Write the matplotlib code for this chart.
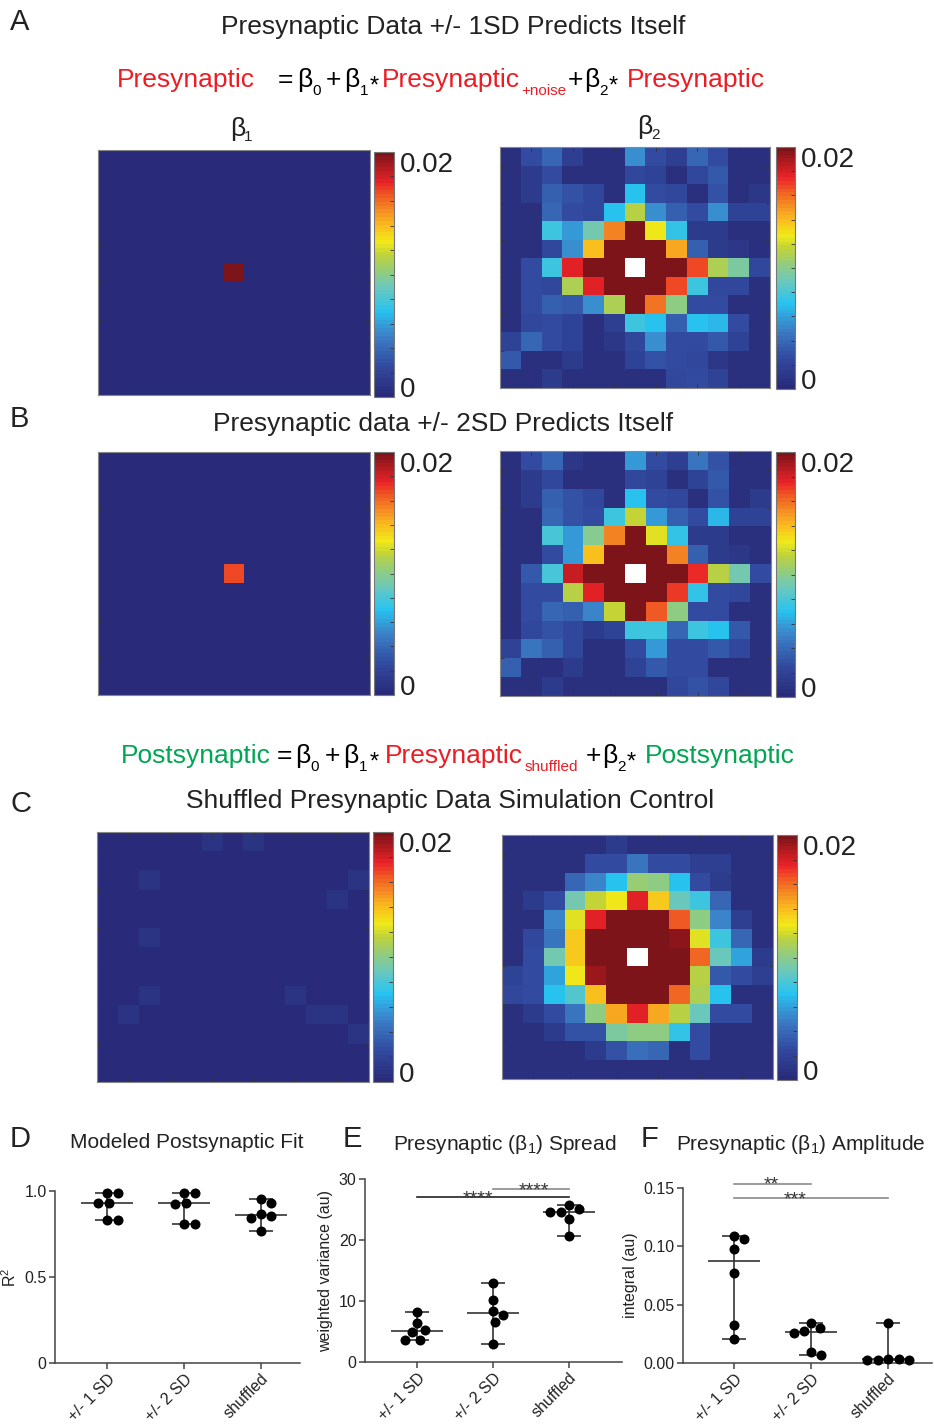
import numpy as np
import matplotlib
matplotlib.use('Agg')
import matplotlib.pyplot as plt
from matplotlib.colors import LinearSegmentedColormap

W, H = 934, 1425
plt.rcParams['font.family'] = ['Liberation Sans', 'DejaVu Sans']
plt.rcParams['mathtext.fontset'] = 'custom'
plt.rcParams['mathtext.rm'] = 'Liberation Sans'
plt.rcParams['mathtext.it'] = 'Liberation Sans:italic'

RED = '#ED1C24'
GREEN = '#00A651'
DARK = '#222222'

# ---- heatmap data (values x 1e-3, nan = centre pixel) ----
nan = np.nan
# beta2, presynaptic +/- 1SD
pre1_beta2 = [
    [0.5, 2.5, 4.0, 1.8, 0.5, 0.5, 5.5, 2.5, 1.8, 4.0, 2.5, 0.5, 0.5],
    [0.5, 1.5, 2.5, 0.5, 0.5, 0.5, 2.2, 2.0, 0.5, 2.2, 3.3, 0.5, 0.5],
    [0.5, 1.5, 3.6, 3.0, 2.2, 0.5, 7.0, 2.5, 2.2, 0.5, 3.0, 0.5, 1.2],
    [0.5, 0.5, 4.0, 2.5, 2.2, 7.0, 11.4, 5.5, 3.6, 2.5, 5.5, 2.0, 2.0],
    [0.5, 0.5, 7.6, 5.8, 9.3, 15.6, 25, 12.6, 7.4, 1.3, 1.3, 0.5, 0.5],
    [0.5, 0.5, 2.2, 5.6, 14.0, 25, 25, 25, 14.6, 3.6, 1.3, 1.0, 0.5],
    [0.5, 2.5, 7.6, 17.6, 25, 25, nan, 25, 25, 16.6, 11.2, 9.6, 2.3],
    [0.5, 2.5, 2.3, 11.0, 17.6, 25, 25, 25, 16.6, 7.6, 2.2, 2.2, 0.5],
    [0.5, 2.5, 3.6, 3.3, 5.6, 11.2, 25, 15.8, 10.0, 2.5, 2.5, 0.5, 0.5],
    [0.5, 2.2, 2.5, 2.0, 0.5, 1.6, 7.7, 7.0, 3.6, 7.0, 6.6, 2.5, 0.5],
    [2.0, 4.0, 2.5, 2.0, 0.5, 1.0, 2.3, 5.6, 2.5, 2.5, 3.3, 2.0, 0.5],
    [3.3, 0.5, 0.5, 1.3, 0.5, 0.5, 2.0, 3.0, 2.5, 2.3, 1.2, 0.5, 0.5],
    [0.5, 0.5, 1.3, 0.5, 0.5, 0.5, 0.5, 0.5, 2.2, 2.7, 2.0, 0.5, 0.5],
]
# beta2, presynaptic +/- 2SD
pre2_beta2 = [
    [0.5, 2.5, 4.0, 1.2, 0.5, 0.5, 5.8, 2.5, 1.8, 4.4, 3.0, 0.5, 0.5],
    [0.5, 1.5, 2.2, 0.5, 0.5, 0.5, 2.3, 2.0, 0.5, 2.0, 3.3, 0.5, 0.5],
    [0.5, 1.5, 3.6, 3.0, 2.3, 0.5, 7.0, 2.5, 2.2, 0.5, 3.0, 0.5, 1.3],
    [0.5, 0.5, 4.0, 3.0, 2.5, 7.6, 11.8, 5.8, 3.6, 2.5, 6.6, 2.0, 2.0],
    [0.5, 0.5, 8.0, 5.8, 9.8, 15.6, 25, 12.4, 7.4, 1.3, 1.5, 0.5, 0.5],
    [0.5, 0.5, 2.5, 5.8, 14.0, 25, 25, 25, 15.6, 3.6, 1.5, 1.2, 0.5],
    [0.5, 3.3, 8.0, 18.4, 25, 25, nan, 25, 25, 17.4, 11.5, 9.3, 2.5],
    [0.5, 2.5, 2.5, 11.5, 17.6, 25, 25, 25, 17.0, 7.4, 2.5, 2.2, 0.5],
    [0.5, 2.5, 4.0, 3.6, 5.3, 11.8, 25, 16.4, 10.2, 2.5, 2.5, 0.5, 0.5],
    [0.5, 2.2, 3.0, 2.3, 1.5, 2.0, 7.8, 7.8, 4.0, 7.8, 7.0, 3.3, 0.5],
    [2.0, 4.4, 3.6, 2.2, 0.5, 0.5, 2.5, 5.8, 2.5, 2.5, 3.3, 2.3, 0.5],
    [3.6, 0.5, 0.5, 1.5, 0.5, 0.5, 2.0, 3.3, 2.5, 2.5, 0.5, 0.5, 0.5],
    [0.5, 0.5, 1.3, 0.5, 0.5, 0.5, 0.5, 0.5, 2.2, 3.0, 2.3, 0.5, 0.5],
]
# beta2, shuffled control
shuf_beta2 = [
    [0.5, 0.5, 0.5, 0.5, 0.5, 1.5, 0.5, 0.5, 0.5, 0.5, 0.5, 0.5, 0.5],
    [0.5, 0.5, 0.5, 0.5, 2.6, 2.6, 4.6, 2.8, 2.5, 1.6, 1.8, 0.5, 0.5],
    [0.5, 0.5, 0.5, 4.0, 5.3, 7.0, 10.5, 10.0, 7.0, 2.7, 1.3, 0.5, 0.5],
    [0.5, 1.3, 2.7, 9.3, 11.8, 12.8, 17.6, 13.6, 9.0, 7.6, 3.8, 0.5, 0.5],
    [0.5, 0.5, 5.3, 12.4, 17.6, 25, 25, 25, 16.4, 10.3, 5.3, 1.8, 0.5],
    [0.5, 2.3, 4.4, 13.6, 25, 25, 25, 25, 19.6, 12.4, 7.6, 4.0, 0.5],
    [0.5, 2.7, 9.3, 13.6, 25, 25, nan, 25, 25, 16.2, 9.0, 6.0, 1.3],
    [2.0, 2.5, 6.2, 12.8, 19.2, 25, 25, 25, 25, 11.3, 3.2, 2.8, 1.8],
    [2.3, 2.8, 7.0, 8.2, 13.8, 25, 25, 25, 16.0, 11.0, 7.0, 0.5, 0.5],
    [0.5, 1.5, 2.8, 4.6, 10.2, 14.6, 17.5, 14.4, 11.4, 9.0, 2.6, 2.6, 0.5],
    [0.5, 0.5, 1.5, 3.0, 3.0, 9.5, 10.1, 10.1, 7.3, 2.6, 0.5, 0.5, 0.5],
    [0.5, 0.5, 0.5, 0.5, 1.5, 3.0, 4.2, 3.8, 0.5, 2.6, 0.5, 0.5, 0.5],
    [0.5, 0.5, 0.5, 0.5, 0.5, 0.5, 0.5, 0.5, 0.5, 0.5, 0.5, 0.5, 0.5],
]
# beta1, shuffled control (nearly flat)
shuf_beta1 = [
    [.2, .2, .2, .2, .2, .9, .2, .9, .2, .2, .2, .2, .2],
    [.2, .2, .2, .2, .2, .2, .2, .2, .2, .2, .2, .2, .2],
    [.2, .2, .9, .2, .2, .2, .2, .2, .2, .2, .2, .2, .9],
    [.2, .2, .2, .2, .2, .2, .2, .2, .2, .2, .2, .9, .2],
    [.2, .2, .2, .2, .2, .2, .2, .2, .2, .2, .2, .2, .2],
    [.2, .2, .9, .2, .2, .2, .2, .2, .2, .2, .2, .2, .2],
    [.2, .2, .2, .2, .2, .2, .2, .2, .2, .2, .2, .2, .2],
    [.2, .2, .2, .2, .2, .2, .2, .2, .2, .2, .2, .2, .2],
    [.2, .2, .9, .2, .2, .2, .2, .2, .2, .9, .2, .2, .2],
    [.2, .9, .2, .2, .2, .2, .2, .2, .2, .2, .9, .9, .2],
    [.2, .2, .2, .2, .2, .2, .2, .2, .2, .2, .2, .2, .9],
    [.2, .2, .2, .2, .2, .2, .2, .2, .2, .2, .2, .2, .2],
    [.2, .2, .2, .2, .2, .2, .2, .2, .2, .2, .2, .2, .2],
]
# beta1 for the self-prediction maps: zero except the centre pixel
pre1_beta1 = np.zeros((13, 13))
pre1_beta1[6, 6] = 25.0
pre2_beta1 = np.zeros((13, 13))
pre2_beta1[6, 6] = 16.8

# ---- dot plot data ----
groups = ['+/- 1 SD', '+/- 2 SD', 'shuffled']
fit_r2 = [[0.99, 0.99, 0.93, 0.93, 0.83, 0.83],
          [0.99, 0.99, 0.93, 0.925, 0.81, 0.81],
          [0.955, 0.93, 0.865, 0.857, 0.845, 0.768]]
spread = [[8.2, 6.4, 5.2, 4.85, 3.65, 3.6],
          [13.0, 10.2, 8.3, 7.75, 6.6, 3.0],
          [25.7, 25.15, 24.65, 24.6, 23.4, 20.7]]
amplitude = [[0.1086, 0.1063, 0.0977, 0.0774, 0.0323, 0.0203],
             [0.0343, 0.0303, 0.0274, 0.026, 0.0097, 0.0066],
             [0.0343, 0.0031, 0.0031, 0.0030, 0.0029, 0.0023]]

# colormap: jet as it looks in the printed figure
anchors = [(0.0, (41, 43, 122)), (0.125, (50, 75, 160)), (0.25, (60, 130, 200)),
           (0.35, (40, 195, 240)), (0.45, (110, 200, 185)), (0.52, (150, 205, 120)),
           (0.58, (190, 210, 60)), (0.635, (240, 232, 25)), (0.7, (250, 190, 30)),
           (0.76, (245, 145, 35)), (0.82, (240, 95, 35)), (0.88, (235, 35, 40)),
           (1.0, (125, 20, 25))]
cmap = LinearSegmentedColormap.from_list(
    'printjet', [(p, tuple(c / 255 for c in rgb)) for p, rgb in anchors], N=64)
cmap.set_bad('white')

fig = plt.figure(figsize=(W / 100, H / 100), dpi=100)
renderer = fig.canvas.get_renderer()


def box(x0, y0, x1, y1):
    return [x0 / W, 1 - y1 / H, (x1 - x0) / W, (y1 - y0) / H]


def txt(x, y, s, **kw):
    kw.setdefault('va', 'baseline')
    return fig.text(x / W, 1 - y / H, s, **kw)


def heatmap(data, hm, cb):
    ax = fig.add_axes(box(*hm))
    im = ax.imshow(np.asarray(data, dtype=float) * 1e-3, cmap=cmap, vmin=0, vmax=0.02,
                   aspect='auto', interpolation='nearest')
    ax.set_xticks(range(1, 12, 2))
    ax.set_yticks(np.arange(0.5, 11, 2))
    ax.tick_params(direction='in', length=3, width=0.6, color='#333',
                   top=True, right=True, labelbottom=False, labelleft=False)
    for s in ax.spines.values():
        s.set_color('#888')
        s.set_linewidth(0.8)
    cax = fig.add_axes(box(*cb))
    bar = fig.colorbar(im, cax=cax, ticks=np.linspace(0, 0.02, 11))
    bar.ax.tick_params(direction='in', length=3, width=0.6, color='#333', labelright=False)
    bar.outline.set_edgecolor('#777')
    bar.outline.set_linewidth(0.8)
    txt(cb[2] + 6, cb[1] + 20, '0.02', fontsize=20, color=DARK)
    txt(cb[2] + 6, cb[3], '0', fontsize=20, color=DARK)


def equation(x, base, pieces):
    # pieces: (gap before in px, text, colour, kind) kind: 'm' main, 's' subscript, 'a' asterisk
    for gap, s, color, kind in pieces:
        x += gap
        if kind == 's':
            t = txt(x, base + 8, s, color=color, fontsize=11)
        elif kind == 'a':
            t = txt(x, base + 6, s, color=color, fontsize=17)
        else:
            t = txt(x, base, s, color=color, fontsize=19)
        x += t.get_window_extent(renderer).width


# ---- header texts ----
for x, y, s in [(10, 30, 'A'), (10, 427, 'B'), (10, 812, 'C'),
                (10, 1147, 'D'), (343, 1147, 'E'), (641, 1147, 'F')]:
    txt(x, y, s, fontsize=21, color=DARK)

txt(453, 34, 'Presynaptic Data +/- 1SD Predicts Itself', ha='center', fontsize=19, color=DARK)
txt(443, 431, 'Presynaptic data +/- 2SD Predicts Itself', ha='center', fontsize=19, color=DARK)
txt(450, 808, 'Shuffled Presynaptic Data Simulation Control', ha='center', fontsize=19, color=DARK)

K = 'black'
equation(117, 87, [(0, 'Presynaptic', RED, 'm'), (23, '=', K, 'm'), (4, 'β', K, 'm'),
                   (0, '0', K, 's'), (5, '+', K, 'm'), (3, 'β', K, 'm'), (0, '1', K, 's'),
                   (1, '*', K, 'a'), (4, 'Presynaptic', RED, 'm'), (1, '+noise', RED, 's'),
                   (1, '+', K, 'm'), (1, 'β', K, 'm'), (0, '2', K, 's'), (1, '*', K, 'a'),
                   (9, 'Presynaptic', RED, 'm')])
equation(121, 763, [(0, 'Postsynaptic', GREEN, 'm'), (6, '=', K, 'm'), (3, 'β', K, 'm'),
                    (0, '0', K, 's'), (6, '+', K, 'm'), (3, 'β', K, 'm'), (0, '1', K, 's'),
                    (3, '*', K, 'a'), (6, 'Presynaptic', RED, 'm'), (1, 'shuffled', RED, 's'),
                    (8, '+', K, 'm'), (1, 'β', K, 'm'), (0, '2', K, 's'), (1, '*', K, 'a'),
                    (9, 'Postsynaptic', GREEN, 'm')])

txt(230, 136, 'β', fontsize=19, color=DARK)
txt(244, 141, '1', fontsize=11, color=DARK)
txt(637, 134, 'β', fontsize=19, color=DARK)
txt(651, 139, '2', fontsize=11, color=DARK)

# ---- heatmaps ----
heatmap(pre1_beta1, (98, 150, 370, 395), (374, 152, 394, 397))
heatmap(pre1_beta2, (500, 147, 770, 388), (776, 147, 795, 389))
heatmap(pre2_beta1, (98, 452, 370, 695), (374, 452, 394, 695))
heatmap(pre2_beta2, (500, 451, 771, 696), (776, 452, 795, 697))
heatmap(shuf_beta1, (97, 832, 369, 1082), (373, 832, 393, 1082))
heatmap(shuf_beta2, (502, 835, 773, 1079), (777, 835, 797, 1080))


# ---- dot plots ----
def swarm(y_px, d=10.5):
    xs = np.zeros(len(y_px))
    placed = []
    for i in np.argsort(-y_px):
        cands = [0.0]
        for px, py in placed:
            dy = y_px[i] - py
            if abs(dy) < d:
                dx = np.sqrt(d * d - dy * dy)
                cands += [px + dx, px - dx]
        cands.sort(key=lambda c: (round(abs(c), 6), -c))
        for c in cands:
            if all((c - px) ** 2 + (y_px[i] - py) ** 2 >= d * d - 1e-6 for px, py in placed):
                xs[i] = c
                break
        placed.append((xs[i], y_px[i]))
    return xs


def dot_panel(bx, cat_px, step, ylim, yticks, ylabels, ylabel, data, sig):
    x0, y0, x1, y1 = bx
    ax = fig.add_axes(box(*bx))
    ax.set_xlim(-(cat_px - x0) / step, (x1 - cat_px) / step)
    ax.set_ylim(*ylim)
    px_y = (y1 - y0) / (ylim[1] - ylim[0])
    for i, vals in enumerate(data):
        vals = np.asarray(vals)
        off = swarm(vals * px_y) / step
        med, lo, hi = np.median(vals), vals.min(), vals.max()
        ax.hlines(med, i - 0.34, i + 0.34, color='#333', lw=1.2, zorder=2)
        ax.vlines(i, lo, hi, color='#333', lw=1.2, zorder=2)
        ax.hlines([lo, hi], i - 0.16, i + 0.16, color='#333', lw=1.2, zorder=2)
        ax.scatter(i + off, vals, s=52, color='black', linewidths=0, zorder=3, clip_on=False)
    for a, b, y, stars, xs, col in sig:
        ax.plot([a, b], [y, y], color=col, lw=1.2, clip_on=False)
        ax.annotate(stars, (xs, y), xytext=(0, -4.5), textcoords='offset points',
                    ha='center', va='baseline', fontsize=14, color='#333', annotation_clip=False)
    ax.set_xticks(range(len(groups)))
    ax.set_xticklabels(groups, rotation=45, ha='right', rotation_mode='anchor', fontsize=11.5)
    ax.set_yticks(yticks)
    ax.set_yticklabels(ylabels, fontsize=11.5)
    ax.set_ylabel(ylabel, fontsize=11.5, color=DARK)
    for s in ['top', 'right']:
        ax.spines[s].set_visible(False)
    for s in ['left', 'bottom']:
        ax.spines[s].set_color('#444')
        ax.spines[s].set_linewidth(1.1)
    ax.tick_params(length=4, width=1.1, color='#444', pad=2, labelcolor=DARK)
    return ax


dot_panel((55, 1191, 300, 1363), 107, 77, (0, 1.0), [0, 0.5, 1.0], ['0', '0.5', '1.0'],
          'R$^2$', fit_r2, [])
dot_panel((365, 1179, 622, 1362), 417, 76, (0, 30), [0, 10, 20, 30], ['0', '10', '20', '30'],
          'weighted variance (au)', spread,
          [(0, 2, 27.0, '****', 0.8, '#222'), (1, 2, 28.4, '****', 1.54, '#8a8a8a')])
dot_panel((683, 1188, 932, 1363), 734, 77, (0, 0.15), [0, 0.05, 0.10, 0.15],
          ['0.00', '0.05', '0.10', '0.15'], 'integral (au)', amplitude,
          [(0, 1, 0.1537, '**', 0.49, '#8a8a8a'), (0, 2, 0.1414, '***', 0.79, '#8a8a8a')])

txt(70, 1148, 'Modeled Postsynaptic Fit', fontsize=15, color=DARK)
txt(393, 1150, 'Presynaptic (β$_1$) Spread', fontsize=15, color=DARK)
txt(676, 1150, 'Presynaptic (β$_1$) Amplitude', fontsize=15, color=DARK)

fig.savefig('out.png', dpi=100)
